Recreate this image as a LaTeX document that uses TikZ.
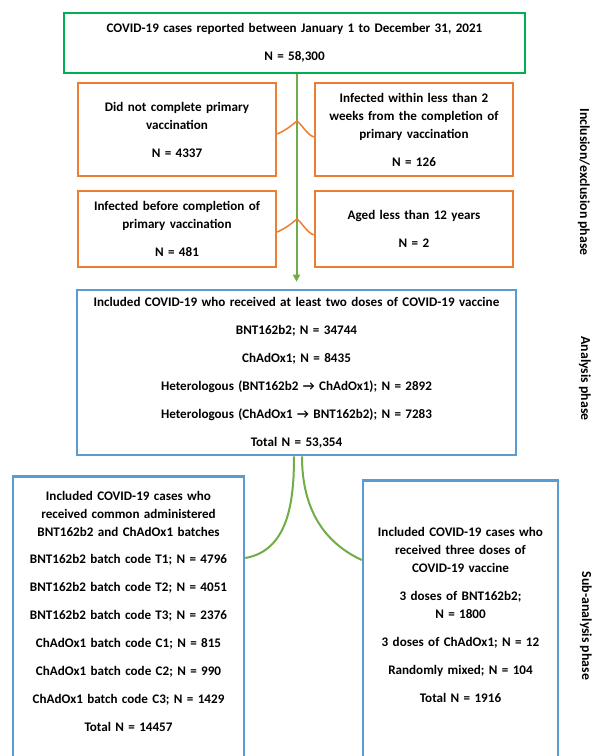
\documentclass[tikz,border=0pt]{standalone}
\usepackage{fontspec}
\setmainfont{Carlito}
\usetikzlibrary{arrows.meta}

\definecolor{boxgreen}{RGB}{0,176,80}
\definecolor{boxorange}{RGB}{237,125,49}
\definecolor{boxblue}{RGB}{91,155,213}
\definecolor{linegreen}{RGB}{112,173,71}

\tikzset{
box/.style={
  rectangle,
  draw,
  line width=2.6pt,
  align=center,
  inner sep=0pt,
  font=\bfseries\fontsize{13.1}{18}\selectfont,
},
label/.style={
  rectangle,
  draw=none,
  text centered,
  inner sep=0pt,
  font=\bfseries\fontsize{13.8}{15}\selectfont,
},
}

\begin{document}
\begin{tikzpicture}[x=1pt, y=1pt, >={Triangle[width=7pt,length=7pt]}]
\useasboundingbox (0,0) rectangle (597,-756);
\clip (0,0) rectangle (597,-756);
%inclusion/exclusion
\node[box, draw=boxgreen, minimum width=461pt, minimum height=60pt, text width=455pt](cases) at (294.5,-43) {COVID-19 cases reported between January 1 to December 31, 2021\\[10pt] N = 58,300};
\node[box, draw=boxorange, minimum width=198pt, minimum height=93pt, text width=194pt](notcomplete) at (177,-129.5) {Did not complete primary\\ vaccination\\[10pt] N = 4337};
\node[box, draw=boxorange, minimum width=198pt, minimum height=93pt, text width=194pt](lesstwoweeks) at (414,-129.5) {Infected within less than 2\\ weeks from the completion of\\ primary vaccination\\[10pt] N = 126};
\node[box, draw=boxorange, minimum width=198pt, minimum height=76pt, text width=194pt](beforecomplete) at (177,-229) {Infected before completion of\\ primary vaccination\\[10pt] N = 481};
\node[box, draw=boxorange, minimum width=198pt, minimum height=76pt, text width=194pt](agedless) at (414,-229) {Aged less than 12 years\\[10pt] N = 2};
%analysis
\node[box, draw=boxblue, minimum width=439pt, minimum height=165pt, text width=435pt](analysis) at (296.5,-372.5) {Included COVID-19 who received at least two doses of COVID-19 vaccine\\[10pt] BNT162b2; N = 34744\\[10pt] ChAdOx1; N = 8435\\[10pt] Heterologous (BNT162b2 → ChAdOx1); N = 2892\\[10pt] Heterologous (ChAdOx1 → BNT162b2); N = 7283\\[10pt] Total N = 53,354};
%sub-analysis
\node[box, draw=boxblue, anchor=north, minimum width=231pt, text width=228pt, inner ysep=15pt, text depth=330pt](batches) at (128.5,-475) {Included COVID-19 cases who\\ received common administered\\ BNT162b2 and ChAdOx1 batches\\[9pt] BNT162b2 batch code T1; N = 4796\\[10pt] BNT162b2 batch code T2; N = 4051\\[10pt] BNT162b2 batch code T3; N = 2376\\[10pt] ChAdOx1 batch code C1; N = 815\\[10pt] ChAdOx1 batch code C2; N = 990\\[10pt] ChAdOx1 batch code C3; N = 1429\\[10pt] Total N = 14457};
\node[box, draw=boxblue, anchor=north, minimum width=195pt, text width=192pt, inner ysep=47pt, text depth=330pt](threedoses) at (460.5,-479) {Included COVID-19 cases who\\ received three doses of\\ COVID-19 vaccine\\[10pt] 3 doses of BNT162b2;\\ N = 1800\\[10pt] 3 doses of ChAdOx1; N = 12\\[10pt] Randomly mixed; N = 104\\[10pt] Total N = 1916};
%phases
\node[label, rotate=-90](inclusion) at (584,-182) {Inclusion/exclusion phase};
\node[label, rotate=-90](analysisphase) at (585,-378.5) {Analysis phase};
\node[label, rotate=-90](subanalysis) at (586,-626) {Sub-analysis phase};

\coordinate (j1) at (297,-121);
\coordinate (j2) at (297,-219);

\draw[->, linegreen, line width=2pt, shorten >=7pt](cases.south -| analysis.north) -- (analysis.north);
\draw[boxorange, line width=1.5pt]([yshift=-4.5pt]notcomplete.east) to[out=25, in=-140] (j1) to[out=-40, in=155] ([yshift=-7.5pt]lesstwoweeks.west);
\draw[boxorange, line width=1.5pt]([yshift=-3pt]beforecomplete.east) to[out=25, in=-140] (j2) to[out=-40, in=155] ([yshift=-6pt]agedless.west);
\draw[linegreen, line width=2pt]([xshift=-2.5pt]analysis.south) to[out=-90, in=10] ([yshift=-83pt]batches.north east);
\draw[linegreen, line width=2pt]([xshift=5.5pt]analysis.south) to[out=-90, in=155] ([yshift=-81pt]threedoses.north west);

\end{tikzpicture}
\end{document}
